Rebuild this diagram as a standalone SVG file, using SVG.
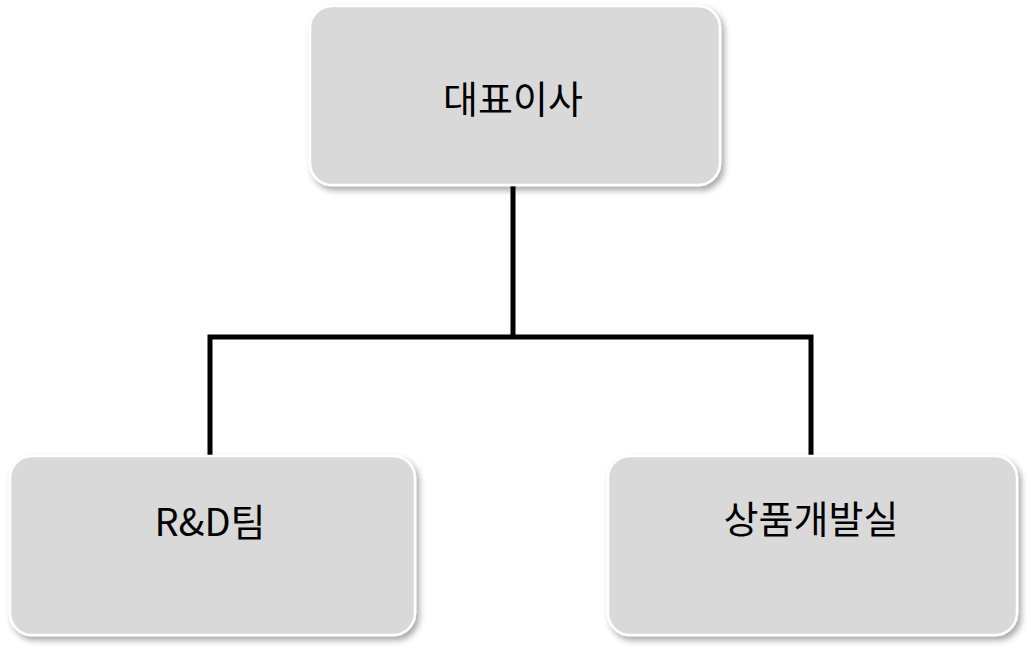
<svg xmlns="http://www.w3.org/2000/svg" width="1031" height="648" viewBox="0 0 1031 648">
<defs>
<filter id="sh" x="-10%" y="-10%" width="120%" height="130%"><feDropShadow dx="3" dy="4" stdDeviation="3" flood-color="#000" flood-opacity="0.35"/></filter>
<style>
.box{fill:#d9d9d9;stroke:#fff;stroke-width:2.5;filter:url(#sh)}
.t{font-family:"Noto Sans CJK KR","Noto Sans",sans-serif;font-size:38px;fill:#000;text-anchor:middle}
.c{fill:none;stroke:#000;stroke-width:5}
</style>
</defs>
<rect width="1031" height="648" fill="#fff"/>
<g id="connectors"><path class="c" d="M513 185V337M210 455V337H811V455"/></g>
<g id="ceo"><rect class="box" x="310" y="6" width="410" height="179" rx="22"/><text class="t" x="513" y="113">대표이사</text></g>
<g id="rnd"><rect class="box" x="10" y="456" width="405" height="179" rx="22"/><text class="t" x="210" y="536">R&amp;D팀</text></g>
<g id="product"><rect class="box" x="608" y="456" width="409" height="179" rx="22"/><text class="t" x="811" y="533">상품개발실</text></g>
</svg>
